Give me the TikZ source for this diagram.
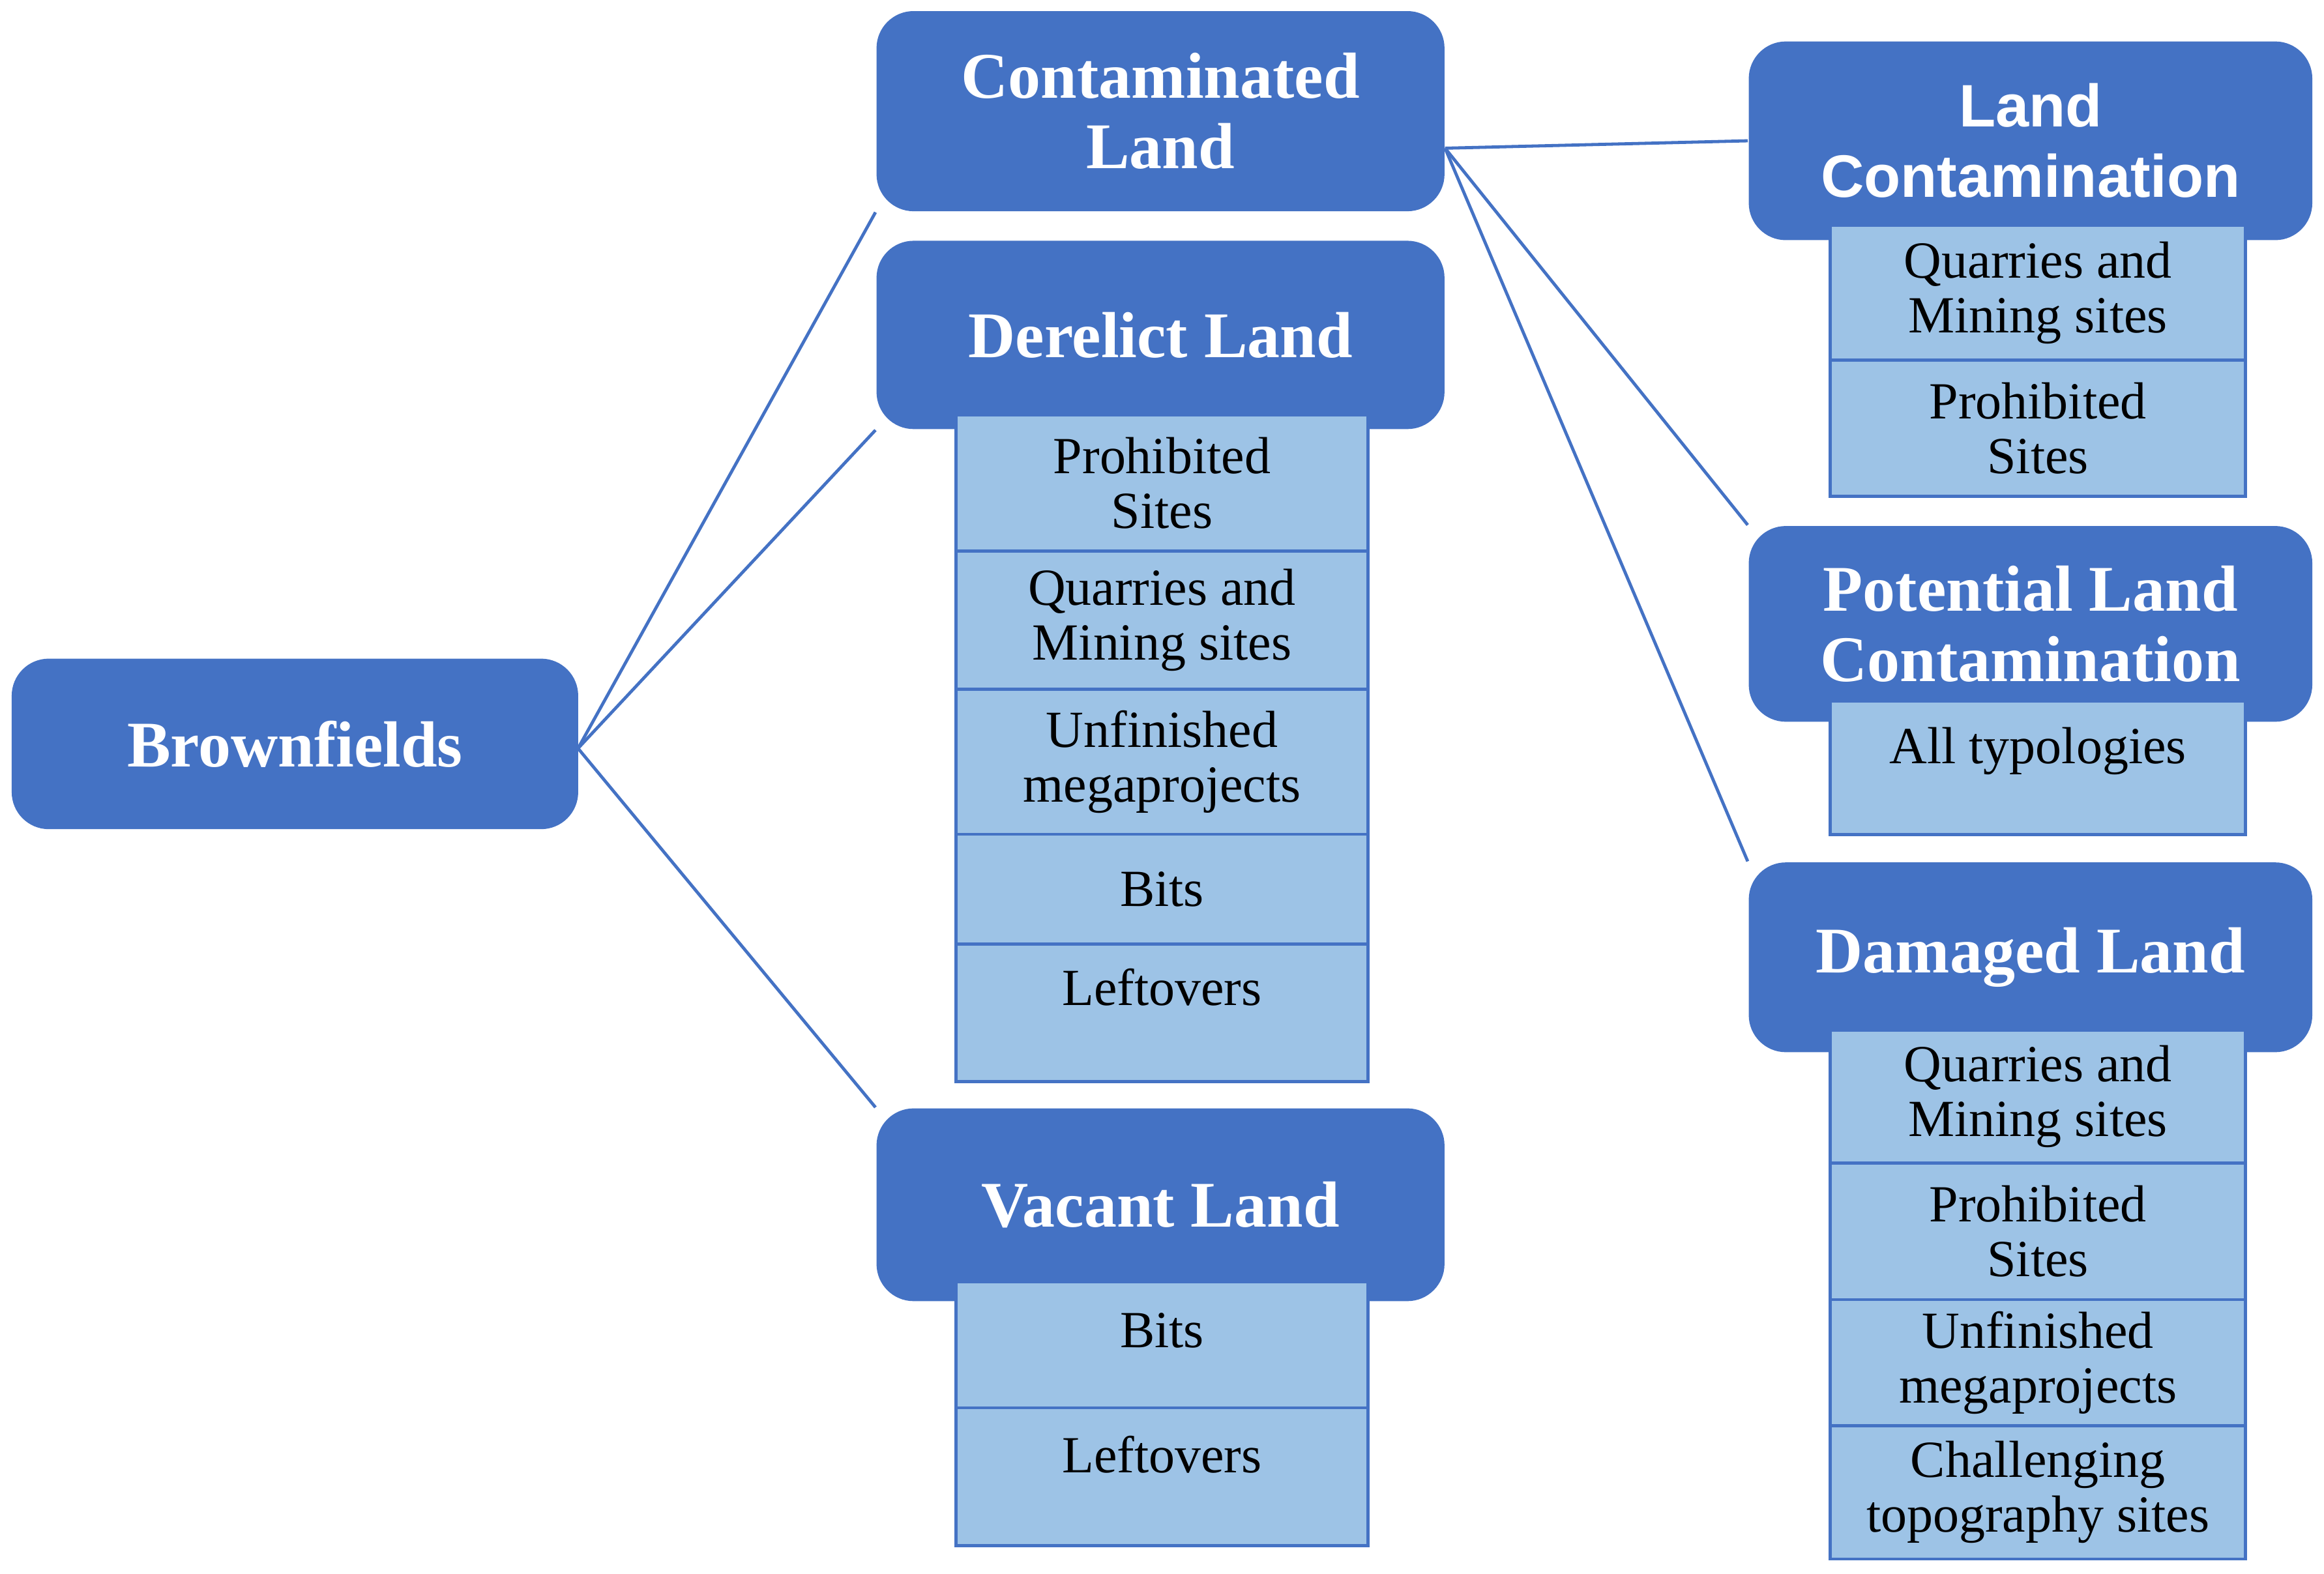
\documentclass[tikz,border=0pt]{standalone}
\usepackage{fontspec}
\setmainfont{Liberation Serif}
\newfontfamily\hsans{Liberation Sans}
\begin{document}
\begin{tikzpicture}[x=0.01cm,y=-0.01cm,
  head/.style={draw=none,fill=hb,rounded corners=0.25cm,text=white,font=\fontsize{12.5}{13.5}\selectfont\bfseries,align=center,inner sep=2pt},
  sub/.style={draw=hb,line width=0.6pt,fill=sb,minimum width=2.78cm,align=center,font=\fontsize{10}{10.5}\selectfont,inner sep=1pt},
  conn/.style={draw=hb,line width=0.6pt}]
\definecolor{hb}{HTML}{4472C4}
\definecolor{sb}{HTML}{9DC3E6}
\useasboundingbox (0,0) rectangle (1568,1062);
% headings
\node[head,minimum width=3.82cm,minimum height=1.15cm] (bf) at (199,502) {Brownfields};
\node[head,minimum width=3.83cm,minimum height=1.35cm] (cl) at (783,75) {Contaminated\\Land};
\node[head,minimum width=3.83cm,minimum height=1.27cm] (dl) at (783,226) {Derelict Land};
\node[head,minimum width=3.83cm,minimum height=1.30cm] (vl) at (783,813) {Vacant Land};
\node[head,minimum width=3.80cm,minimum height=1.34cm,font=\fontsize{11.5}{13.5}\selectfont\hsans\bfseries] (lc) at (1370,95) {Land\\Contamination};
\node[head,minimum width=3.80cm,minimum height=1.32cm] (pl) at (1370,421) {Potential Land\\Contamination};
\node[head,minimum width=3.80cm,minimum height=1.28cm] (da) at (1370,646) {Damaged Land};
% subs derelict
\node[sub,minimum height=0.92cm] (d1) at (784,326) {Prohibited\\Sites};
\node[sub,minimum height=0.93cm] (d2) at (784,418.5) {Quarries and\\Mining sites};
\node[sub,minimum height=0.98cm] (d3) at (784,514) {Unfinished\\megaprojects};
\node[sub,minimum height=0.74cm] (d4) at (784,600) {Bits};
\node[sub,minimum height=0.93cm,text depth=0.35cm] (d5) at (784,683.5) {Leftovers};
% vacant
\node[sub,minimum height=0.85cm,text depth=0.2cm] (v1) at (784,907.5) {Bits};
\node[sub,minimum height=0.93cm,text depth=0.3cm] (v2) at (784,996.5) {Leftovers};
% land contamination
\node[sub,minimum width=2.80cm,minimum height=0.91cm] (l1) at (1375,197.5) {Quarries and\\Mining sites};
\node[sub,minimum width=2.80cm,minimum height=0.92cm] (l2) at (1375,289) {Prohibited\\Sites};
% potential
\node[sub,minimum width=2.80cm,minimum height=0.90cm,text depth=0.3cm] (p1) at (1375,518) {All typologies};
% damaged
\node[sub,minimum width=2.80cm,minimum height=0.90cm] (g1) at (1375,740) {Quarries and\\Mining sites};
\node[sub,minimum width=2.80cm,minimum height=0.92cm] (g2) at (1375,831) {Prohibited\\Sites};
\node[sub,minimum width=2.80cm,minimum height=0.85cm] (g3) at (1375,919.5) {Unfinished\\megaprojects};
\node[sub,minimum width=2.80cm,minimum height=0.90cm] (g4) at (1375,1007) {Challenging\\topography sites};
% connectors
\coordinate (bfr) at (390,505);
\coordinate (clr) at (975,100);
\draw[conn] (bfr) -- (cl.south west);
\draw[conn] (bfr) -- (dl.south west);
\draw[conn] (bfr) -- (vl.north west);
\draw[conn] (clr) -- (lc.west);
\draw[conn] (clr) -- (pl.north west);
\draw[conn] (clr) -- (da.north west);
\end{tikzpicture}
\end{document}
